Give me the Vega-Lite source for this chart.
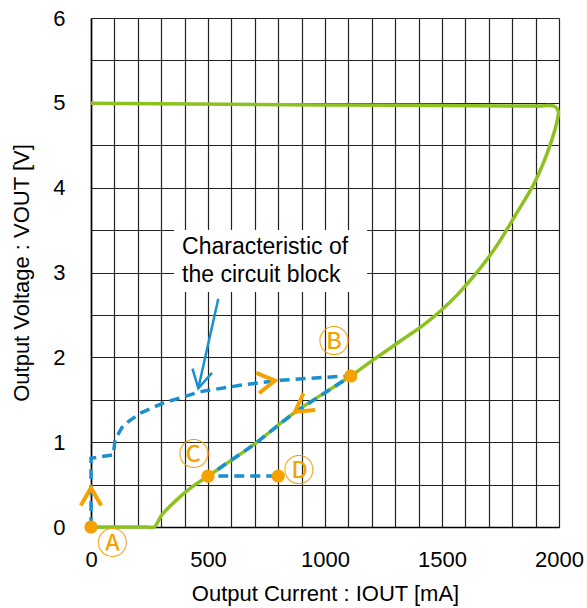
{
  "$schema": "https://vega.github.io/schema/vega-lite/v6.json",
  "width": 468,
  "height": 509,
  "autosize": {"type": "none"},
  "padding": {"left": 91, "top": 18, "right": 28, "bottom": 81},
  "background": "white",
  "view": {"stroke": null},
  "config": {
    "font": "Liberation Sans",
    "axis": {
      "labelFont": "Liberation Sans",
      "titleFont": "Liberation Sans",
      "labelFontSize": 22,
      "titleFontSize": 22,
      "labelColor": "#000",
      "titleColor": "#000",
      "titleFontWeight": "normal",
      "ticks": false,
      "tickSize": 0,
      "gridColor": "#222",
      "gridWidth": 1.2,
      "gridOpacity": 1,
      "domainColor": "#000",
      "domainWidth": 1.6
    }
  },
  "datasets": {
    "green": [
      {"i": 0, "v": 0, "o": 1},
      {"i": 240, "v": 0, "o": 2},
      {"i": 270, "v": 0, "o": 3},
      {"i": 302, "v": 0.14, "o": 4},
      {"i": 366, "v": 0.32, "o": 5},
      {"i": 430, "v": 0.47, "o": 6},
      {"i": 500, "v": 0.6, "o": 7},
      {"i": 694, "v": 0.967, "o": 8},
      {"i": 865, "v": 1.34, "o": 9},
      {"i": 1110, "v": 1.78, "o": 10},
      {"i": 1206, "v": 1.97, "o": 11},
      {"i": 1278, "v": 2.107, "o": 12},
      {"i": 1349, "v": 2.244, "o": 13},
      {"i": 1420, "v": 2.38, "o": 14},
      {"i": 1491, "v": 2.54, "o": 15},
      {"i": 1563, "v": 2.73, "o": 16},
      {"i": 1634, "v": 2.95, "o": 17},
      {"i": 1691, "v": 3.15, "o": 18},
      {"i": 1740, "v": 3.34, "o": 19},
      {"i": 1791, "v": 3.57, "o": 20},
      {"i": 1841, "v": 3.8, "o": 21},
      {"i": 1890, "v": 4.03, "o": 22},
      {"i": 1933, "v": 4.29, "o": 23},
      {"i": 1969, "v": 4.56, "o": 24},
      {"i": 1993, "v": 4.8, "o": 25},
      {"i": 1997, "v": 4.9, "o": 26},
      {"i": 1980, "v": 4.96, "o": 27},
      {"i": 1900, "v": 4.962, "o": 28},
      {"i": 1000, "v": 4.975, "o": 29},
      {"i": 0, "v": 4.995, "o": 30}
    ],
    "blue": [
      {"i": 0, "v": 0, "o": 1},
      {"i": 0, "v": 0.81, "o": 2},
      {"i": 95, "v": 0.85, "o": 3},
      {"i": 103, "v": 1.03, "o": 4},
      {"i": 138, "v": 1.2, "o": 5},
      {"i": 209, "v": 1.34, "o": 6},
      {"i": 308, "v": 1.46, "o": 7},
      {"i": 466, "v": 1.595, "o": 8},
      {"i": 637, "v": 1.67, "o": 9},
      {"i": 808, "v": 1.73, "o": 10},
      {"i": 1093, "v": 1.78, "o": 11},
      {"i": 1110, "v": 1.78, "o": 12},
      {"i": 865, "v": 1.34, "o": 13},
      {"i": 694, "v": 0.967, "o": 14},
      {"i": 500, "v": 0.6, "o": 15},
      {"i": 800, "v": 0.6, "o": 16}
    ],
    "dots": [
      {"i": 0, "v": 0, "name": "A"},
      {"i": 1110, "v": 1.78, "name": "B"},
      {"i": 500, "v": 0.6, "name": "C"},
      {"i": 800, "v": 0.6, "name": "D"}
    ],
    "letters": [
      {"i": 92, "v": -0.21, "label": "Ⓐ"},
      {"i": 1038, "v": 2.17, "label": "Ⓑ"},
      {"i": 440, "v": 0.84, "label": "Ⓒ"},
      {"i": 889, "v": 0.65, "label": "Ⓓ"}
    ],
    "arrows": [
      {"i": 0, "v": 0.46, "dir": "up"},
      {"i": 786, "v": 1.725, "dir": "right"},
      {"i": 872, "v": 1.36, "dir": "downleft"}
    ],
    "note": [
      {"i": 355, "i2": 1180, "v": 2.77, "v2": 3.5}
    ],
    "noteText": [
      {"i": 389, "v": 3.305, "text": "Characteristic of"},
      {"i": 389, "v": 2.97, "text": "the circuit block"}
    ],
    "pointer": [
      {"i": 458.5, "v": 1.635, "i2": 544, "v2": 2.69}
    ]
  },
  "encoding": {
    "x": {
      "field": "i", "type": "quantitative",
      "scale": {"domain": [0, 2000], "nice": false},
      "axis": {
        "values": [0,100,200,300,400,500,600,700,800,900,1000,1100,1200,1300,1400,1500,1600,1700,1800,1900,2000],
        "labelExpr": "datum.value % 500 === 0 ? format(datum.value, 'd') : ''",
        "labelPadding": 22,
        "labelFlush": false,
        "labelOverlap": false,
        "titlePadding": 13,
        "title": "Output Current : IOUT [mA]"
      }
    },
    "y": {
      "field": "v", "type": "quantitative",
      "scale": {"domain": [0, 6], "nice": false},
      "axis": {
        "values": [0,0.5,1,1.5,2,2.5,3,3.5,4,4.5,5,5.5,6],
        "labelExpr": "datum.value % 1 === 0 ? format(datum.value, 'd') : ''",
        "labelPadding": 26,
        "labelFlush": false,
        "labelOverlap": false,
        "titlePadding": 19,
        "title": "Output Voltage : VOUT [V]"
      }
    }
  },
  "layer": [
    {
      "data": {"name": "note"},
      "mark": {"type": "rect", "fill": "white", "stroke": null},
      "encoding": {
        "x2": {"field": "i2"},
        "y2": {"field": "v2"}
      }
    },
    {
      "data": {"name": "noteText"},
      "mark": {"type": "text", "align": "left", "baseline": "middle", "fontSize": 23, "font": "Liberation Sans", "color": "#000"},
      "encoding": {
        "text": {"field": "text"}
      }
    },
    {
      "data": {"name": "green"},
      "mark": {"type": "line", "color": "#8cc220", "strokeWidth": 3.5, "strokeJoin": "round", "interpolate": "catmull-rom"},
      "encoding": {
        "order": {"field": "o"}
      }
    },
    {
      "data": {"name": "blue"},
      "mark": {"type": "line", "color": "#1a8fd2", "strokeWidth": 3.5, "strokeDash": [10, 6]},
      "encoding": {
        "order": {"field": "o"}
      }
    },
    {
      "data": {"name": "pointer"},
      "mark": {"type": "rule", "color": "#1a8fd2", "strokeWidth": 2.5},
      "encoding": {
        "x2": {"field": "i2"},
        "y2": {"field": "v2"}
      }
    },
    {
      "data": {"name": "pointer"},
      "mark": {"type": "point", "shape": "M-1,1.8L0,0L1,1.8", "filled": false, "stroke": "#1a8fd2", "strokeWidth": 2.5, "size": 400, "angle": 192.6, "opacity": 1},
      "encoding": {}
    },
    {
      "data": {"name": "arrows"},
      "transform": [{"filter": "datum.dir === 'up'"}],
      "mark": {"type": "point", "shape": "M-1,1.7L0,0L1,1.7", "filled": false, "stroke": "#f5a200", "strokeWidth": 4, "size": 420, "angle": 0, "opacity": 1},
      "encoding": {}
    },
    {
      "data": {"name": "arrows"},
      "transform": [{"filter": "datum.dir === 'right'"}],
      "mark": {"type": "point", "shape": "M-1,1.7L0,0L1,1.7", "filled": false, "stroke": "#f5a200", "strokeWidth": 4, "size": 420, "angle": 82, "opacity": 1},
      "encoding": {}
    },
    {
      "data": {"name": "arrows"},
      "transform": [{"filter": "datum.dir === 'downleft'"}],
      "mark": {"type": "point", "shape": "M-1,1.7L0,0L1,1.7", "filled": false, "stroke": "#f5a200", "strokeWidth": 4, "size": 420, "angle": 235, "opacity": 1},
      "encoding": {}
    },
    {
      "data": {"name": "dots"},
      "mark": {"type": "circle", "color": "#f5a200", "size": 175, "opacity": 1},
      "encoding": {}
    },
    {
      "data": {"name": "letters"},
      "mark": {"type": "text", "fontSize": 31, "font": "Noto Sans CJK JP", "color": "#f5a200", "align": "center", "baseline": "middle"},
      "encoding": {
        "text": {"field": "label"}
      }
    }
  ]
}
